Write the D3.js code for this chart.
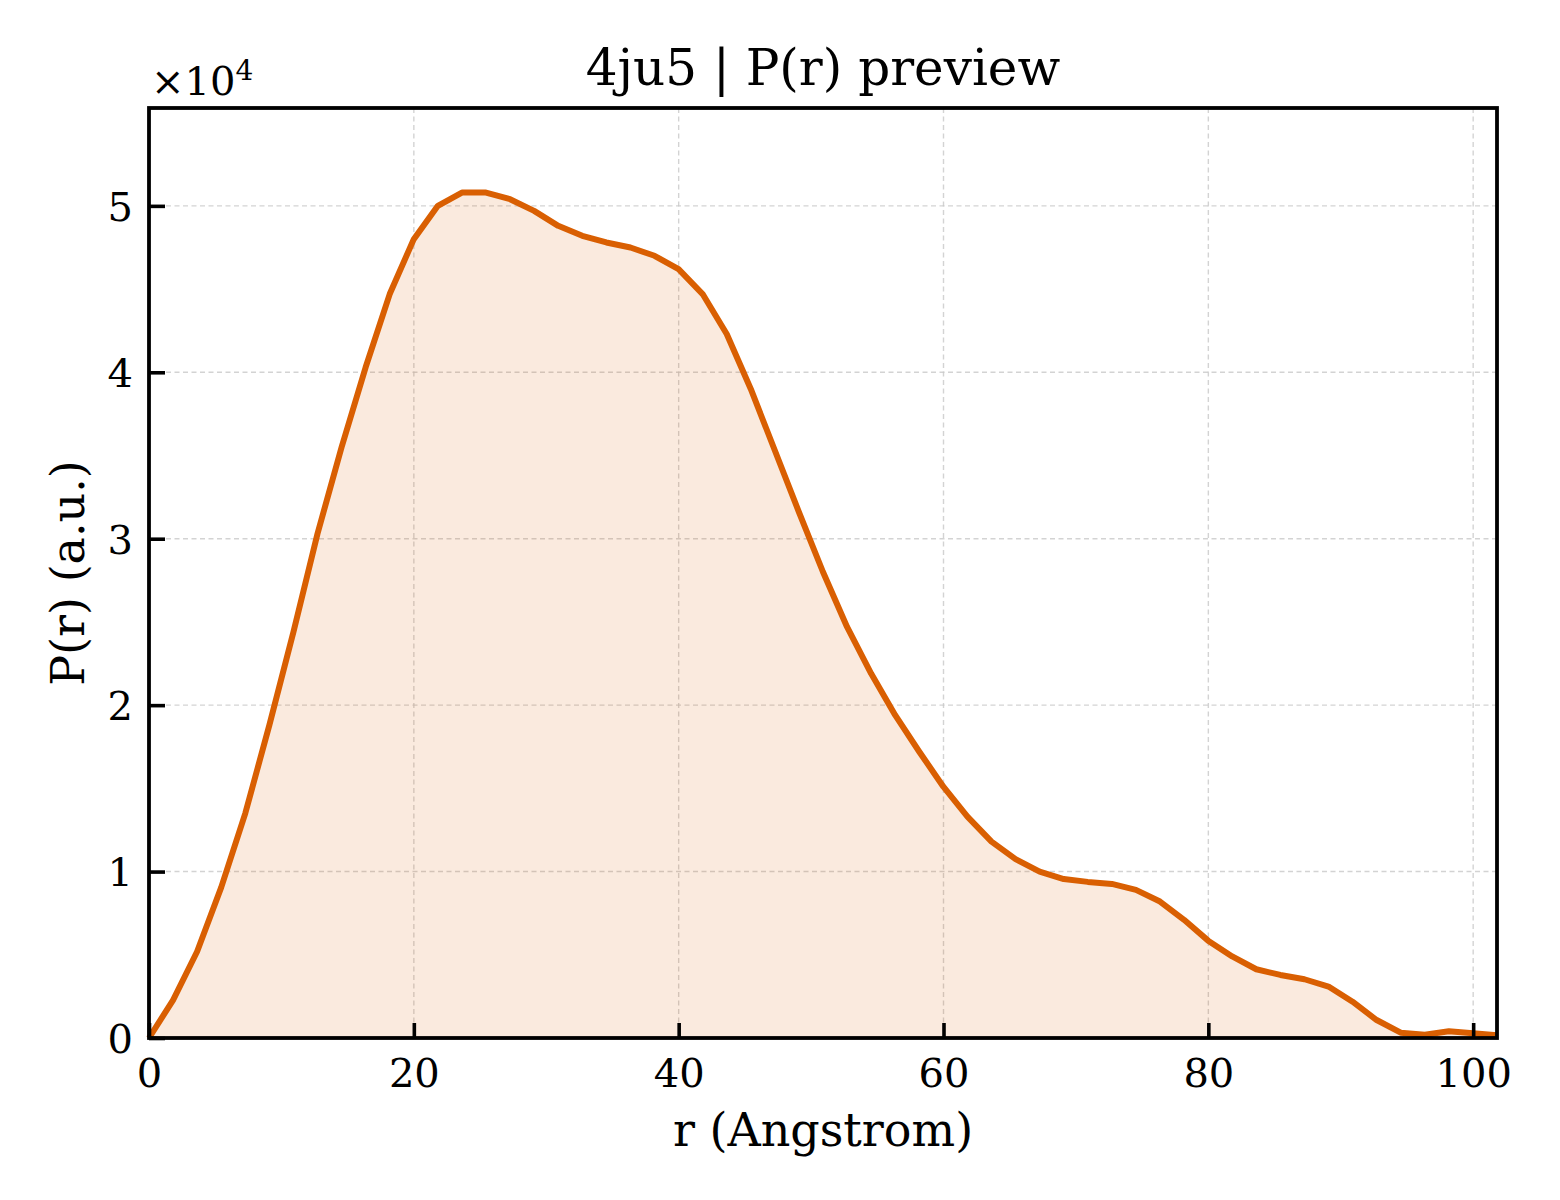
<!DOCTYPE html>
<html>
<head>
<meta charset="utf-8">
<script src="https://cdn.jsdelivr.net/npm/d3@7"></script>
<style>
  body { margin: 0; background: #fff; }
  text { font-family: "DejaVu Serif", serif; fill: #000; }
</style>
</head>
<body>
<script>
// P(r) distribution, values in units of 1e4, r step ~1.818 Angstrom
const rStep = 101.8 / 56;
const prValues = [
  0, 0.228, 0.52, 0.905, 1.35, 1.88, 2.44, 3.03, 3.55, 4.03,
  4.47, 4.80, 5.00, 5.08, 5.08, 5.04, 4.97, 4.88, 4.82, 4.78,
  4.75, 4.70, 4.62, 4.47, 4.23, 3.90, 3.53, 3.16, 2.80, 2.47,
  2.19, 1.94, 1.72, 1.51, 1.33, 1.18, 1.075, 1.00, 0.955, 0.938,
  0.926, 0.89, 0.82, 0.71, 0.585, 0.49, 0.413, 0.379, 0.353, 0.309,
  0.218, 0.108, 0.032, 0.02, 0.04, 0.028, 0.016
];
const xTicks = [0, 20, 40, 60, 80, 100];
const yTicks = [0, 1, 2, 3, 4, 5];

const title = "4ju5 | P(r) preview";
const xLabel = "r (Angstrom)";
const yLabel = "P(r) (a.u.)";

const width = 1560;
const height = 1200;
const margin = {top: 108, right: 63, bottom: 162, left: 149};
const lineColor = "#d95f02";

const data = prValues.map((v, i) => ({r: i * rStep, p: v}));

const x = d3.scaleLinear()
  .domain([0, d3.max(data, d => d.r)])
  .range([margin.left, width - margin.right]);

const y = d3.scaleLinear()
  .domain([0, d3.max(prValues) * 1.1])
  .range([height - margin.bottom, margin.top]);

const svg = d3.create("svg")
  .attr("width", width)
  .attr("height", height)
  .attr("viewBox", [0, 0, width, height]);

svg.append("rect").attr("width", width).attr("height", height).attr("fill", "#fff");

// grid
const grid = svg.append("g")
  .attr("stroke", "#c8c8c8")
  .attr("stroke-opacity", 0.8)
  .attr("stroke-width", 1.4)
  .attr("stroke-dasharray", "5,3.5");

grid.selectAll(".gx")
  .data(xTicks)
  .join("line")
  .attr("x1", d => x(d)).attr("x2", d => x(d))
  .attr("y1", margin.top).attr("y2", height - margin.bottom);

grid.selectAll(".gy")
  .data(yTicks)
  .join("line")
  .attr("x1", margin.left).attr("x2", width - margin.right)
  .attr("y1", d => y(d)).attr("y2", d => y(d));

// area + line
const area = d3.area()
  .x(d => x(d.r))
  .y0(y(0))
  .y1(d => y(d.p));

const line = d3.line()
  .x(d => x(d.r))
  .y(d => y(d.p));

svg.append("path")
  .datum(data)
  .attr("fill", lineColor)
  .attr("fill-opacity", 0.13)
  .attr("d", area);

svg.append("path")
  .datum(data)
  .attr("fill", "none")
  .attr("stroke", lineColor)
  .attr("stroke-width", 6)
  .attr("stroke-linejoin", "round")
  .attr("d", line);

// axes, ticks pointing inward
const xAxis = svg.append("g")
  .attr("transform", `translate(0,${height - margin.bottom})`)
  .call(d3.axisBottom(x).tickValues(xTicks).tickSize(-15).tickPadding(21).tickFormat(d3.format("d")));

const yAxis = svg.append("g")
  .attr("transform", `translate(${margin.left},0)`)
  .call(d3.axisLeft(y).tickValues(yTicks).tickSize(-16).tickPadding(16).tickFormat(d3.format("d")));

[xAxis, yAxis].forEach(g => {
  g.select(".domain").remove();
  g.selectAll(".tick line").attr("stroke", "#000").attr("stroke-width", 3.6);
  g.selectAll(".tick text")
    .attr("font-size", 40)
    .attr("font-family", "DejaVu Serif");
});
yAxis.selectAll(".tick text").attr("dy", "0.36em");

// frame
svg.append("rect")
  .attr("x", margin.left)
  .attr("y", margin.top)
  .attr("width", width - margin.left - margin.right)
  .attr("height", height - margin.top - margin.bottom)
  .attr("fill", "none")
  .attr("stroke", "#000")
  .attr("stroke-width", 3.8);

// labels
svg.append("text")
  .attr("x", (margin.left + width - margin.right) / 2)
  .attr("y", 85)
  .attr("text-anchor", "middle")
  .attr("font-size", 50)
  .text(title);

svg.append("text")
  .attr("x", (margin.left + width - margin.right) / 2)
  .attr("y", 1146)
  .attr("text-anchor", "middle")
  .attr("font-size", 46)
  .text(xLabel);

svg.append("text")
  .attr("transform", `translate(84,${(margin.top + height - margin.bottom) / 2}) rotate(-90)`)
  .attr("text-anchor", "middle")
  .attr("font-size", 46)
  .text(yLabel);

// offset text x10^4
const off = svg.append("text")
  .attr("x", margin.left + 2)
  .attr("y", 95)
  .attr("font-size", 40);
off.append("tspan").text("×10");
off.append("tspan").attr("font-size", 28).attr("dy", -15).text("4");

document.body.appendChild(svg.node());
</script>
</body>
</html>
